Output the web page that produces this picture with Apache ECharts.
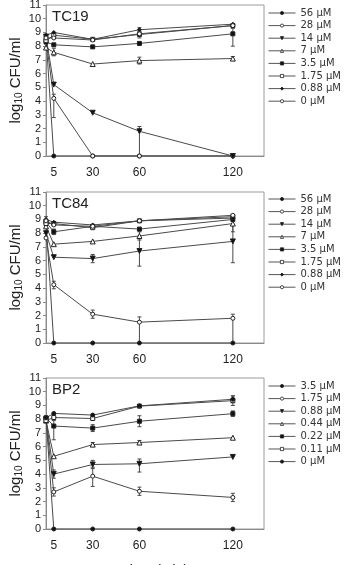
<!DOCTYPE html>
<html>
<head>
<meta charset="utf-8">
<script src="https://cdn.jsdelivr.net/npm/echarts@6/dist/echarts.min.js"></script>
<style>
  html, body { margin: 0; padding: 0; background: #fff; }
  #main { width: 349px; height: 565px; }
</style>
</head>
<body>
<div id="main"></div>
<script>
// sampling times (min)
var times = [0, 5, 30, 60, 120];
var xTickLabels = [5, 30, 60, 120];

// TC19
var tc19Names = ['56 µM', '28 µM', '14 µM', '7 µM', '3.5 µM', '1.75 µM', '0.88 µM', '0 µM'];
var tc19Values = [
  [8.7, 0, 0, 0, 0],
  [8.5, 4.2, 0, 0, 0],
  [8.7, 5.2, 3.15, 1.8, 0],
  [7.9, 7.55, 6.7, 6.95, 7.1],
  [8.3, 8.1, 7.95, 8.2, 8.9],
  [8.4, 8.8, 8.5, 8.85, 9.5],
  [8.8, 9.0, 8.5, 9.2, 9.6],
  [8.6, 8.6, 8.45, 8.9, 9.5]
];
// [series, time index, low, high]
var tc19Err = [
  [1, 1, 2.8, 4.5], [2, 3, 0, 2.15], [3, 1, 7.3, 7.85], [3, 3, 6.7, 7.2],
  [3, 4, 6.95, 7.25], [4, 4, 8.0, 9.3], [6, 3, 9.05, 9.35], [5, 3, 8.6, 9.05]
];

// TC84
var tc84Names = ['56 µM', '28 µM', '14 µM', '7 µM', '3.5 µM', '1.75 µM', '0.88 µM', '0 µM'];
var tc84Values = [
  [8.9, 0, 0, 0, 0],
  [7.65, 4.25, 2.1, 1.52, 1.8],
  [8.0, 6.25, 6.15, 6.7, 7.4],
  [8.5, 7.2, 7.4, 7.8, 8.7],
  [8.8, 8.1, 8.5, 8.3, 9.0],
  [8.7, 8.7, 8.4, 8.9, 9.2],
  [9.0, 8.8, 8.6, 8.9, 9.1],
  [8.9, 8.6, 8.5, 8.9, 9.3]
];
var tc84Err = [
  [0, 0, 8.6, 9.2], [1, 1, 3.95, 4.5], [1, 2, 1.8, 2.4], [1, 3, 0, 1.9], [1, 4, 0, 2.1],
  [2, 2, 5.85, 6.45], [2, 3, 5.6, 7.6], [2, 4, 5.85, 8.95],
  [3, 3, 7.5, 8.1], [3, 4, 8.1, 9.2], [4, 1, 7.9, 8.3]
];

// BP2
var bp2Names = ['3.5 µM', '1.75 µM', '0.88 µM', '0.44 µM', '0.22 µM', '0.11 µM', '0 µM'];
var bp2Values = [
  [8.1, 0, 0, 0, 0],
  [7.9, 2.7, 3.85, 2.75, 2.3],
  [8.0, 4.0, 4.7, 4.75, 5.25],
  [7.9, 5.3, 6.15, 6.3, 6.65],
  [8.1, 7.5, 7.35, 7.85, 8.4],
  [7.9, 8.12, 8.05, 8.95, 9.35],
  [8.1, 8.42, 8.3, 8.97, 9.45]
];
var bp2Err = [
  [1, 1, 2.4, 3.0], [1, 2, 3.1, 4.5], [1, 3, 2.45, 3.05], [1, 4, 2.0, 2.6],
  [2, 1, 3.7, 4.3], [2, 2, 4.4, 5.0], [2, 3, 4.15, 5.1],
  [3, 2, 6.0, 6.3], [3, 3, 6.15, 6.45],
  [4, 1, 6.5, 7.9], [4, 2, 7.1, 7.6], [4, 3, 7.45, 8.25], [4, 4, 8.2, 8.6],
  [5, 4, 9.0, 9.7], [6, 4, 9.2, 9.7]
];

var panels = [
  { title: 'TC19', names: tc19Names, values: tc19Values, err: tc19Err, top: 5, legendTop: 7 },
  { title: 'TC84', names: tc84Names, values: tc84Values, err: tc84Err, top: 192, legendTop: 193 },
  { title: 'BP2', names: bp2Names, values: bp2Values, err: bp2Err, top: 378, legendTop: 380 }
];

// marker styles: [symbol, filled, rotate]
var markTC = [['circle', 1, 0], ['circle', 0, 0], ['triangle', 1, 180], ['triangle', 0, 0],
  ['rect', 1, 0], ['rect', 0, 0], ['diamond', 1, 0], ['circle', 0, 0]];
var markBP = [['circle', 1, 0], ['circle', 0, 0], ['triangle', 1, 180], ['triangle', 0, 0],
  ['rect', 1, 0], ['rect', 0, 0], ['circle', 1, 0]];

var lineCol = '#4a4a4a';
var font = 'Liberation Sans, Arial, sans-serif';

var chart = echarts.init(document.getElementById('main'));

var grids = [], xAxes = [], yAxes = [], series = [], legends = [], titles = [];

panels.forEach(function (p, gi) {
  grids.push({ left: 46, right: 85, top: p.top, height: 151, show: true,
    outerBoundsMode: 'none', containLabel: false,
    borderColor: '#9a9a9a', borderWidth: 1, backgroundColor: 'transparent' });
  xAxes.push({
    gridIndex: gi, type: 'value', min: 0, max: 140, interval: 5,
    axisLine: { lineStyle: { color: '#8a8a8a' } },
    axisTick: { show: false },
    splitLine: { show: false },
    axisLabel: {
      fontSize: 12, fontFamily: font, color: '#222', margin: 11,
      showMinLabel: true, showMaxLabel: false,
      formatter: function (v) { return xTickLabels.indexOf(v) >= 0 ? String(v) : ''; }
    },
    name: gi === 2 ? 'Time (min)' : '',
    nameLocation: 'middle', nameGap: 35, nameMoveOverlap: false,
    nameTextStyle: { fontSize: 14, fontFamily: font, color: '#222' }
  });
  yAxes.push({
    gridIndex: gi, type: 'value', min: 0, max: 11, interval: 1,
    axisLine: { show: true, lineStyle: { color: '#8a8a8a' } },
    axisTick: { show: true, length: 3, lineStyle: { color: '#8a8a8a' } },
    splitLine: { show: false },
    axisLabel: { fontSize: 11, fontFamily: font, color: '#222', margin: 5 },
    name: 'log{sub|10} CFU/ml', nameLocation: 'middle', nameGap: 22, nameMoveOverlap: false,
    nameTextStyle: { fontSize: 15, fontFamily: font, color: '#222',
      rich: { sub: { fontSize: 10, fontFamily: font, color: '#222', padding: [7, 0, 0, 0] } } }
  });
  titles.push({ text: p.title, left: 52, top: p.top + 4, padding: 0,
    textStyle: { fontSize: 15, fontWeight: 'normal', fontFamily: font, color: '#222' } });

  var marks = gi === 2 ? markBP : markTC;
  var legendData = [];
  p.names.forEach(function (nm, si) {
    var m = marks[si];
    var sname = p.title + '|' + nm;
    legendData.push(sname);
    series.push({
      name: sname, type: 'line', xAxisIndex: gi, yAxisIndex: gi,
      data: times.map(function (t, ti) { return [t, p.values[si][ti]]; }),
      symbol: m[0], symbolRotate: m[2],
      symbolSize: m[0] === 'triangle' ? 5 : 4,
      showAllSymbol: true,
      lineStyle: { color: lineCol, width: 1 },
      itemStyle: { color: m[1] ? '#111' : '#fff', borderColor: '#222', borderWidth: 1 },
      z: 3,
      animation: false
    });
  });
  legends.push({
    data: legendData, orient: 'vertical', left: 268, top: p.legendTop, padding: 0,
    itemWidth: 27, itemHeight: 4, itemGap: 0.6,
    itemStyle: { borderWidth: 0.8 },
    lineStyle: { width: 1, color: '#555' },
    textStyle: { fontSize: 10, fontFamily: 'DejaVu Sans', color: '#333', lineHeight: 12 },
    formatter: function (n) { return n.split('|')[1]; },
    selectedMode: false
  });
  // error bars
  series.push({
    type: 'custom', xAxisIndex: gi, yAxisIndex: gi, z: 2, animation: false,
    data: p.err.map(function (e) { return [times[e[1]], e[2], e[3]]; }),
    renderItem: function (params, api) {
      var lo = api.coord([api.value(0), api.value(1)]);
      var hi = api.coord([api.value(0), api.value(2)]);
      var w = 2;
      var st = { stroke: lineCol, lineWidth: 1 };
      return { type: 'group', children: [
        { type: 'line', shape: { x1: lo[0], y1: lo[1], x2: hi[0], y2: hi[1] }, style: st },
        { type: 'line', shape: { x1: lo[0] - w, y1: lo[1], x2: lo[0] + w, y2: lo[1] }, style: st },
        { type: 'line', shape: { x1: hi[0] - w, y1: hi[1], x2: hi[0] + w, y2: hi[1] }, style: st }
      ] };
    }
  });
});

chart.setOption({
  animation: false,
  title: titles,
  grid: grids,
  xAxis: xAxes,
  yAxis: yAxes,
  legend: legends,
  series: series
});
</script>
</body>
</html>
